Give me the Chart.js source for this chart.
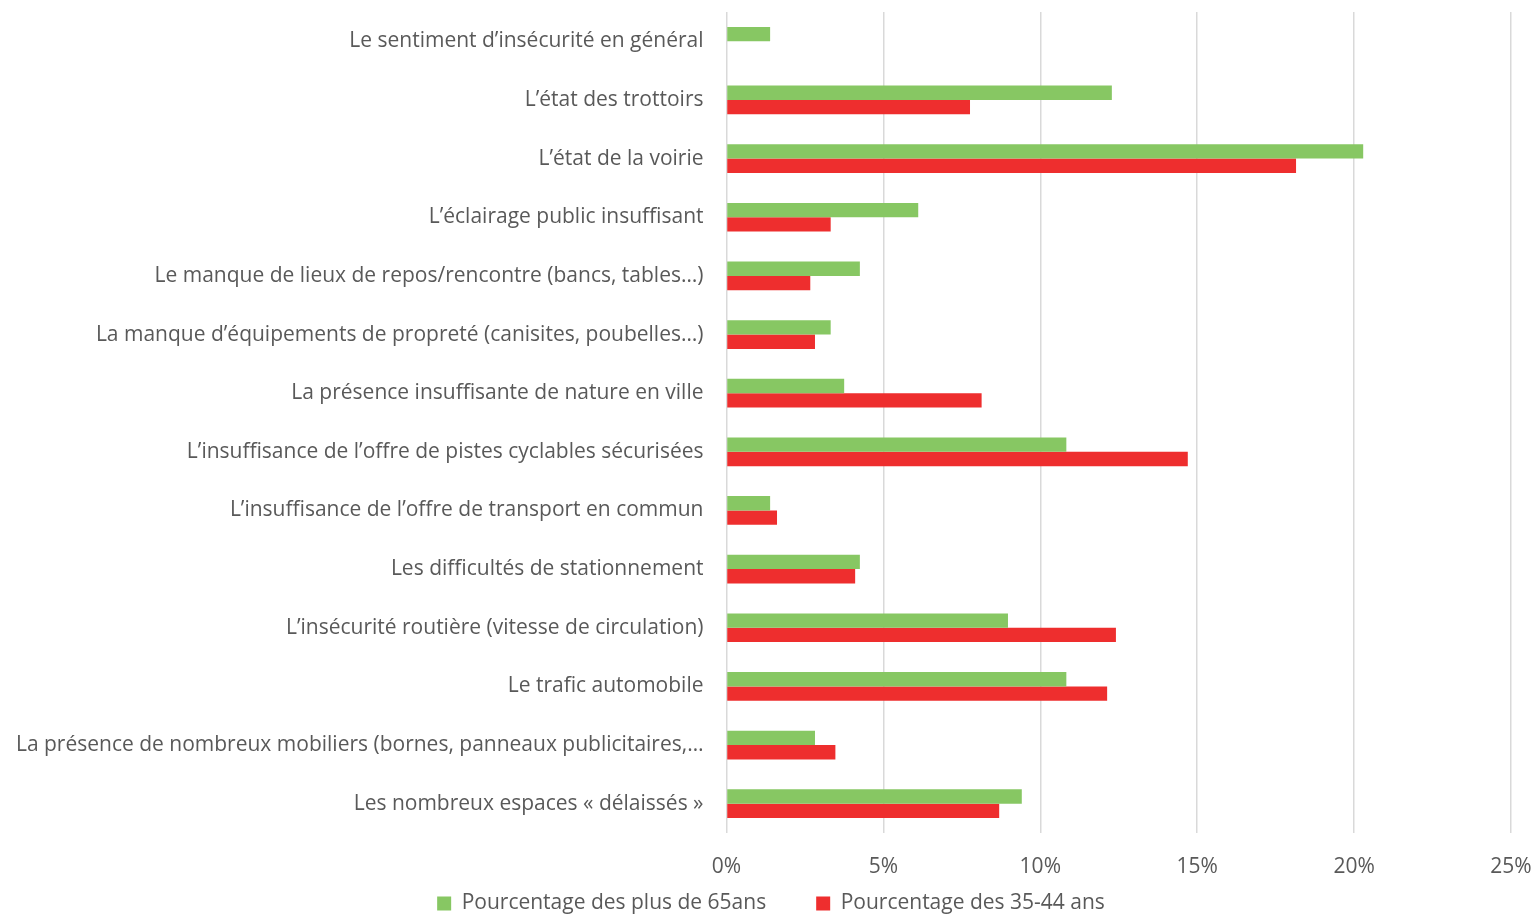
<!DOCTYPE html>
<html><head><meta charset="utf-8">
<script src="https://cdn.jsdelivr.net/npm/chart.js@4/dist/chart.umd.min.js"></script>
<style>html,body{margin:0;padding:0;overflow:hidden;background:#fff}#wrap{width:1535px;height:914px;position:relative}</style>
</head><body><div id="wrap"><canvas id="c"></canvas></div>
<script>
const categories = [
  "Le sentiment d’insécurité en général",
  "L’état des trottoirs",
  "L’état de la voirie",
  "L’éclairage public insuffisant",
  "Le manque de lieux de repos/rencontre (bancs, tables…)",
  "La manque d’équipements de propreté (canisites, poubelles…)",
  "La présence insuffisante de nature en ville",
  "L’insuffisance de l’offre de pistes cyclables sécurisées",
  "L’insuffisance de l’offre de transport en commun",
  "Les difficultés de stationnement",
  "L’insécurité routière (vitesse de circulation)",
  "Le trafic automobile",
  "La présence de nombreux mobiliers (bornes, panneaux publicitaires,…",
  "Les nombreux espaces « délaissés »"
];
const seriesNames = ["Pourcentage des plus de 65ans", "Pourcentage des 35-44 ans"];
const plus65 = [1.39, 12.28, 20.29, 6.11, 4.25, 3.32, 3.75, 10.83, 1.39, 4.25, 8.97, 10.83, 2.82, 9.41];
const age3544 = [0, 7.76, 18.15, 3.32, 2.67, 2.82, 8.13, 14.7, 1.61, 4.10, 12.41, 12.13, 3.47, 8.69];
const xTicks = [0, 5, 10, 15, 20, 25];

const FONT = "'Open Sans', Lato, sans-serif";
const legendPlace = {
  id: 'legendPlace',
  afterLayout(chart) {
    const lg = chart.legend;
    if (!lg) return;
    const half = (lg.right - lg.left) / 2;
    lg.left = 771 - half; lg.right = 771 + half;
    lg.top = 843; lg.bottom = 843 + 130; lg.height = 130;
  }
};
new Chart(document.getElementById('c'), {
  type: 'bar',
  data: {
    labels: categories,
    datasets: [
      {label: seriesNames[0], data: plus65, backgroundColor: '#87C763', borderWidth: 0},
      {label: seriesNames[1], data: age3544, backgroundColor: '#EE2E2E', borderWidth: 0}
    ]
  },
  plugins: [legendPlace],
  options: {
    indexAxis: 'y',
    responsive: true,
    maintainAspectRatio: false,
    animation: false,
    layout: {padding: {top: 12, right: 24, left: 0, bottom: 0}},
    datasets: {bar: {categoryPercentage: 0.49, barPercentage: 1.0}},
    scales: {
      x: {
        min: 0, max: 25,
        afterBuildTicks: s => { s.ticks = xTicks.map(v => ({value: v})); },
        afterFit: s => { s.paddingLeft = 0; s.paddingRight = 0; s.height = 46; },
        ticks: {callback: v => v + '%', color: '#595959', font: {family: FONT, size: 21}, padding: 21},
        grid: {color: '#D9D9D9', lineWidth: 1.5, drawTicks: false},
        border: {display: false}
      },
      y: {
        afterFit: s => { s.width = 726.5; s.paddingTop = 0; s.paddingBottom = 0; },
        ticks: {color: '#595959', font: {family: FONT, size: 21}, padding: 23, autoSkip: false},
        grid: {display: false, drawTicks: false},
        border: {display: false}
      }
    },
    plugins: {
      legend: {
        position: 'bottom',
        maxHeight: 35,
        labels: {color: '#595959', font: {family: FONT, size: 21}, boxWidth: 14, boxHeight: 14, padding: 50}
      },
      tooltip: {enabled: false}
    }
  }
});
</script></body></html>
